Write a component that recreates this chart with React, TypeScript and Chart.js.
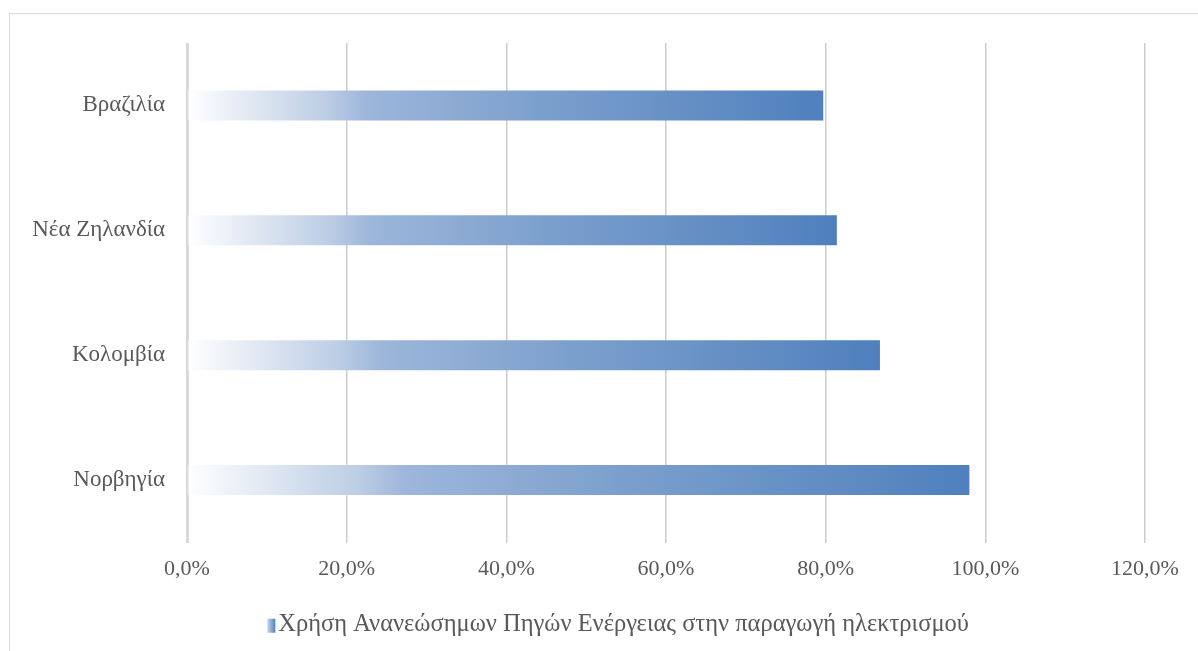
import React, { useEffect, useRef } from "react";
import { Chart, registerables } from "chart.js";

Chart.register(...registerables);

const categories = ["Βραζιλία", "Νέα Ζηλανδία", "Κολομβία", "Νορβηγία"];
const seriesName = "Χρήση Ανανεώσημων Πηγών Ενέργειας στην παραγωγή ηλεκτρισμού";
const values = [79.7, 81.4, 86.8, 98.0];
const xMin = 0;
const xMax = 120;
const xStep = 20;

const TEXT = "#595959";
const FONT = "'Liberation Serif', 'Times New Roman', serif";
const LEGEND_SIZE = 24.5;
const LEGEND_SHIFT = 45;

function makeGradient(ctx: CanvasRenderingContext2D, x0: number, x1: number) {
  const g = ctx.createLinearGradient(x0, 0, x1, 0);
  g.addColorStop(0, "rgba(255,255,255,1)");
  g.addColorStop(0.22, "#bccde5");
  g.addColorStop(0.28, "#9db6da");
  g.addColorStop(0.55, "#7ca0cd");
  g.addColorStop(1, "#4f80bd");
  return g;
}

const legendShiftPlugin = {
  id: "legendShift",
  afterLayout(chart: any) {
    const legend = chart.legend;
    if (!legend) return;
    legend.left += LEGEND_SHIFT;
    legend.right += LEGEND_SHIFT;
  },
  afterDraw(chart: any) {
    const legend = chart.legend;
    if (!legend || !legend.legendHitBoxes || !legend.legendHitBoxes.length) return;
    const hb = legend.legendHitBoxes[0];
    const ctx = chart.ctx;
    const bw = 8;
    const bh = 14;
    const textStart = hb.left + LEGEND_SIZE / 2;
    const left = textStart - 3 - bw;
    const top = hb.top + (hb.height - bh) / 2 + 1;
    ctx.save();
    const g = ctx.createLinearGradient(left, 0, left + bw, 0);
    g.addColorStop(0, "#c9d7ea");
    g.addColorStop(1, "#4f80bd");
    ctx.fillStyle = g;
    ctx.fillRect(left, top, bw, bh);
    ctx.restore();
  },
};

export default function App() {
  const ref = useRef<HTMLCanvasElement | null>(null);

  useEffect(() => {
    document.body.style.overflow = "hidden";
    document.documentElement.style.overflow = "hidden";
    if (!ref.current) return;
    const chart = new Chart(ref.current, {
      type: "bar",
      data: {
        labels: categories,
        datasets: [
          {
            label: seriesName,
            data: values,
            backgroundColor: (c: any) => {
              const ch = c.chart;
              if (!ch.chartArea || c.type !== "data") return "#4f80bd";
              const xs = ch.scales.x;
              const x0 = xs.getPixelForValue(0);
              const x1 = xs.getPixelForValue(c.raw);
              return makeGradient(ch.ctx, x0, x1);
            },
            borderWidth: 0,
            barPercentage: 0.5,
            categoryPercentage: 0.48,
          },
        ],
      },
      options: {
        indexAxis: "y",
        responsive: false,
        animation: false,
        devicePixelRatio: 1,
        layout: { padding: { left: 0, right: 53, top: 43, bottom: 4 } },
        plugins: {
          legend: {
            display: true,
            position: "bottom",
            labels: {
              boxWidth: 0,
              boxHeight: 14,
              color: TEXT,
              font: { family: FONT, size: LEGEND_SIZE },
              padding: 8,
              generateLabels: () => [
                {
                  text: seriesName,
                  fillStyle: "rgba(0,0,0,0)",
                  strokeStyle: "rgba(0,0,0,0)",
                  lineWidth: 0,
                  hidden: false,
                  datasetIndex: 0,
                  fontColor: TEXT,
                },
              ],
            },
          },
          tooltip: { enabled: false },
        },
        scales: {
          x: {
            type: "linear",
            min: xMin,
            max: xMax,
            ticks: {
              stepSize: xStep,
              color: TEXT,
              font: { family: FONT, size: 22 },
              padding: 14,
              callback: (v: any) => `${Number(v).toFixed(1).replace(".", ",")}%`,
            },
            grid: {
              color: (c: any) => (c.index === 0 ? "#d9d9d9" : "#cccccc"),
              lineWidth: (c: any) => (c.index === 0 ? 3 : 1.5),
              drawTicks: false,
            },
            border: { display: false },
            afterFit: (s: any) => {
              s.height = 62;
            },
          },
          y: {
            type: "category",
            ticks: {
              color: TEXT,
              font: { family: FONT, size: 23 },
              padding: 22,
            },
            grid: { display: false, drawTicks: false },
            border: { display: false },
            afterFit: (s: any) => {
              s.width = 187;
            },
          },
        },
      },
      plugins: [legendShiftPlugin],
    } as any);
    return () => chart.destroy();
  }, []);

  return (
    <div style={{ position: "relative", width: 1198, height: 651 }}>
      <div
        style={{
          position: "fixed",
          left: 9,
          top: 13,
          width: 1200,
          height: 660,
          border: "1px solid #d9d9d9",
          boxSizing: "border-box",
        }}
      />
      <canvas
        ref={ref}
        width={1198}
        height={651}
        style={{ position: "fixed", left: 0, top: 0, width: 1198, height: 651 }}
      />
    </div>
  );
}
